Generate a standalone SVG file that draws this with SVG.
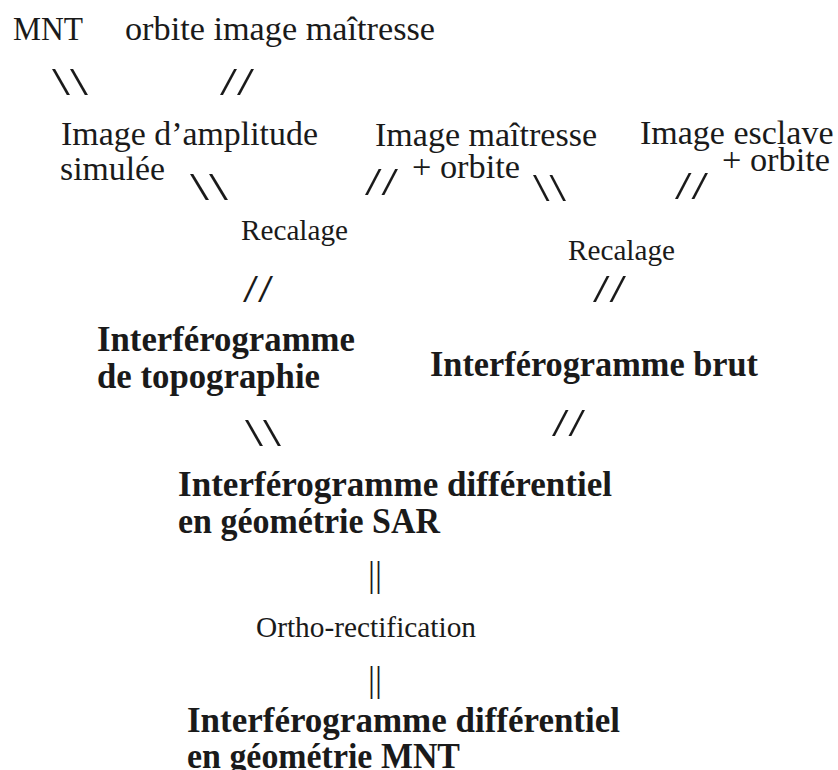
<svg xmlns="http://www.w3.org/2000/svg" width="838" height="770" viewBox="0 0 838 770">
<style>
text { font-family: "Liberation Serif", "Times New Roman", serif; fill: #1a1a1a; }
.r { font-size: 34px; }
.s { font-size: 29px; }
.b { font-size: 35px; font-weight: bold; }
.sl { font-size: 39px; }
.bar { font-size: 35px; }
</style>
<rect width="838" height="770" fill="#ffffff"/>
<g id="nodes">
  <g id="n-mnt"><text class="r" x="13" y="40" textLength="70" lengthAdjust="spacingAndGlyphs">MNT</text></g>
  <g id="n-orbite"><text class="r" x="125" y="40" textLength="310" lengthAdjust="spacingAndGlyphs">orbite image maîtresse</text></g>
  <g id="n-ampl">
    <text class="r" x="61" y="145" textLength="257" lengthAdjust="spacingAndGlyphs">Image d’amplitude</text>
    <text class="r" x="60" y="180" textLength="105" lengthAdjust="spacingAndGlyphs">simulée</text>
  </g>
  <g id="n-maitresse">
    <text class="r" x="375" y="146" textLength="222" lengthAdjust="spacingAndGlyphs">Image maîtresse</text>
    <text class="r" x="412" y="178" textLength="108" lengthAdjust="spacingAndGlyphs">+ orbite</text>
  </g>
  <g id="n-esclave">
    <text class="r" x="640" y="144">Image esclave</text>
    <text class="r" x="722" y="171" textLength="108" lengthAdjust="spacingAndGlyphs">+ orbite</text>
  </g>
  <g id="n-recal1"><text class="s" x="241" y="240" textLength="107" lengthAdjust="spacingAndGlyphs">Recalage</text></g>
  <g id="n-recal2"><text class="s" x="568" y="260" textLength="107" lengthAdjust="spacingAndGlyphs">Recalage</text></g>
  <g id="n-topo">
    <text class="b" x="97" y="351" textLength="258" lengthAdjust="spacingAndGlyphs">Interférogramme</text>
    <text class="b" x="97" y="388" textLength="223" lengthAdjust="spacingAndGlyphs">de topographie</text>
  </g>
  <g id="n-brut"><text class="b" x="430" y="376" textLength="328" lengthAdjust="spacingAndGlyphs">Interférogramme brut</text></g>
  <g id="n-sar">
    <text class="b" x="178" y="496" textLength="434" lengthAdjust="spacingAndGlyphs">Interférogramme différentiel</text>
    <text class="b" x="178" y="533" textLength="262" lengthAdjust="spacingAndGlyphs">en géométrie SAR</text>
  </g>
  <g id="n-ortho"><text class="s" x="256" y="637" textLength="220" lengthAdjust="spacingAndGlyphs">Ortho-rectification</text></g>
  <g id="n-mntgeo">
    <text class="b" x="187" y="732" textLength="433" lengthAdjust="spacingAndGlyphs">Interférogramme différentiel</text>
    <text class="b" x="187" y="768" textLength="273" lengthAdjust="spacingAndGlyphs">en géométrie MNT</text>
  </g>
</g>
<g id="connectors">
  <text class="sl" x="52" y="95" textLength="36" lengthAdjust="spacingAndGlyphs">\\</text>
  <text class="sl" x="220" y="95" textLength="34" lengthAdjust="spacingAndGlyphs">//</text>
  <text class="sl" x="190" y="200" textLength="38" lengthAdjust="spacingAndGlyphs">\\</text>
  <text class="sl" x="365" y="195" textLength="33" lengthAdjust="spacingAndGlyphs">//</text>
  <text class="sl" x="533" y="201" textLength="33" lengthAdjust="spacingAndGlyphs">\\</text>
  <text class="sl" x="675" y="199" textLength="33" lengthAdjust="spacingAndGlyphs">//</text>
  <text class="sl" x="243" y="302" textLength="30" lengthAdjust="spacingAndGlyphs">//</text>
  <text class="sl" x="593" y="302" textLength="33" lengthAdjust="spacingAndGlyphs">//</text>
  <text class="sl" x="245" y="446" textLength="36" lengthAdjust="spacingAndGlyphs">\\</text>
  <text class="sl" x="552" y="436" textLength="33" lengthAdjust="spacingAndGlyphs">//</text>
  <text class="bar" x="368" y="586">||</text>
  <text class="bar" x="368" y="691">||</text>
</g>
</svg>
